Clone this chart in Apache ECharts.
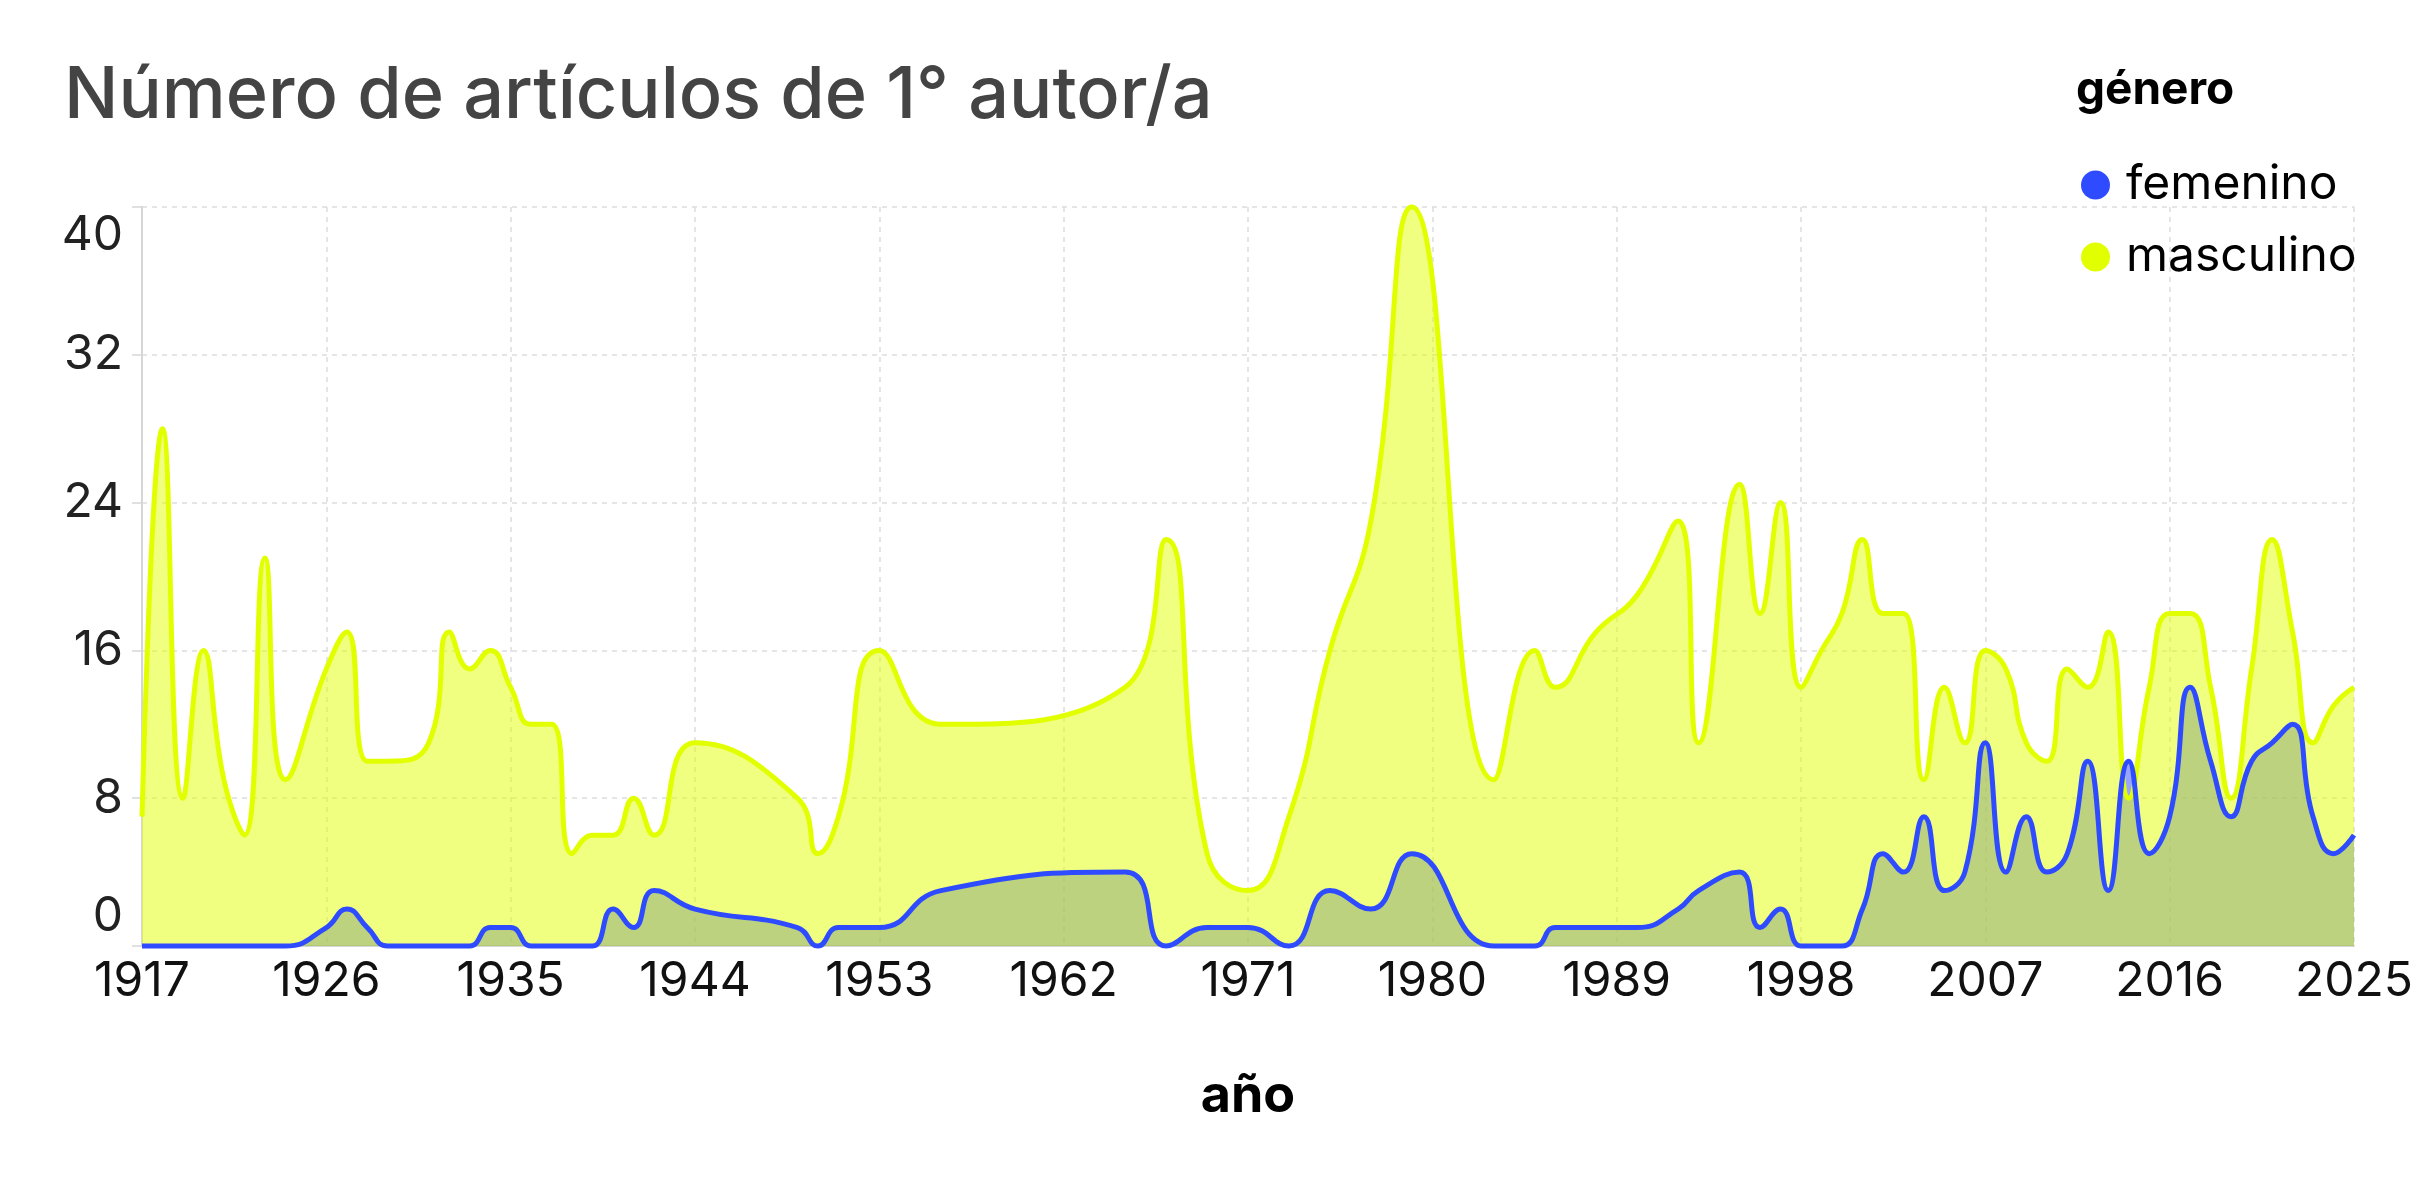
<!DOCTYPE html>
<html>
<head>
<meta charset="utf-8">
<script src="https://cdn.jsdelivr.net/npm/echarts@6/dist/echarts.min.js"></script>
<style>
html,body{margin:0;padding:0;background:#fff;}
#chart{width:2418px;height:1196px;}
</style>
</head>
<body>
<div id="chart"></div>
<script>
// Years with data
const years = [1917,1918,1919,1920,1921,1922,1923,1924,1926,1927,1928,1929,1931,1932,1933,1934,1935,1936,1937,1938,1939,1940,1941,1942,1944,1949,1950,1951,1953,1956,1965,1967,1969,1971,1973,1975,1977,1979,1983,1985,1986,1988,1990,1992,1993,1995,1996,1997,1998,1999,2000,2001,2002,2003,2004,2005,2006,2007,2008,2009,2010,2011,2012,2013,2014,2015,2016,2017,2018,2019,2020,2021,2022,2023,2024,2025];
const femenino = [0,0,0,0,0,0,0,0,1,2,1,0,0,0,0,1,1,0,0,0,0,2,1,3,2,1,0,1,1,3,4,0,1,1,0,3,2,5,0,0,1,1,1,2,3,4,1,2,0,0,0,2,5,4,7,3,4,11,4,7,4,5,10,3,10,5,7,14,10,7,10,11,12,7,5,6];
const masculino = [7,28,8,16,9,6,21,9,15,17,10,10,11,17,15,16,14,12,12,5,6,6,8,6,11,8,5,7,16,12,14,22,5,3,7,16,23,40,9,16,14,17,19,23,11,25,18,24,14,16,18,22,18,18,9,14,11,16,15,11,10,15,14,17,8,14,18,18,14,8,15,22,17,11,13,14];
const seriesNames = ['femenino','masculino'];
const titleText = 'Número de artículos de 1° autor/a';
const legendTitle = 'género';
const xAxisName = 'año';

const FONT = 'Inter, "Noto Sans", sans-serif';
const BLUE = '#2f4bff';
const YELLOW = '#e2ff00';

const femData = years.map((y, i) => [y, femenino[i]]);
const masData = years.map((y, i) => [y, masculino[i]]);

const chart = echarts.init(document.getElementById('chart'), null, {renderer: 'canvas'});

const gridLine = {lineStyle: {type: [5, 5], color: '#dddddd', width: 1.5}};

chart.setOption({
  animation: false,
  backgroundColor: '#ffffff',
  title: [
    {
      text: titleText,
      left: 64, top: 60, padding: 0,
      textStyle: {fontFamily: FONT, fontSize: 72, fontWeight: 500, color: '#444444'}
    },
    {
      text: legendTitle,
      left: 2076, top: 67, padding: 0,
      textStyle: {fontFamily: FONT, fontSize: 46, fontWeight: 'bold', color: '#000000'}
    }
  ],
  legend: {
    data: seriesNames,
    orient: 'vertical',
    left: 2081, top: 161, padding: 0,
    icon: 'circle',
    itemWidth: 51, itemHeight: 29, itemGap: 24,
    textStyle: {fontFamily: FONT, fontSize: 48, color: '#000000', lineHeight: 48}
  },
  grid: {left: 142, right: 64, top: 207, bottom: 250, containLabel: false},
  xAxis: {
    type: 'value',
    min: 1917, max: 2025, interval: 9,
    name: xAxisName,
    nameLocation: 'middle',
    nameGap: 124,
    nameTextStyle: {fontFamily: FONT, fontSize: 52, fontWeight: 'bold', color: '#000000'},
    axisLine: {show: true, lineStyle: {color: '#d6d6d6', width: 2}},
    axisTick: {show: false},
    splitLine: Object.assign({show: true}, gridLine),
    axisLabel: {
      fontFamily: FONT, fontSize: 48, color: '#111111', margin: 12,
      formatter: v => String(v)
    }
  },
  yAxis: {
    type: 'value',
    min: 0, max: 40, interval: 8,
    axisLine: {show: true, lineStyle: {color: '#d6d6d6', width: 2}},
    axisTick: {show: true, length: 10, lineStyle: {color: '#d6d6d6', width: 1.5}},
    splitLine: Object.assign({show: true}, gridLine),
    axisLabel: {
      fontFamily: FONT, fontSize: 48, color: '#222222', margin: 19,
      formatter: v => v === 0 ? '{lo|0}' : (v === 40 ? '{hi|40}' : String(v)),
      rich: {
        lo: {padding: [0, 0, 58, 0]},
        hi: {padding: [58, 0, 0, 0]}
      }
    }
  },
  series: [
    {
      name: 'femenino', type: 'line', data: femData, smooth: 0.5,
      showSymbol: false, clip: false, silent: true, z: 1,
      itemStyle: {color: BLUE},
      lineStyle: {width: 0, color: BLUE},
      areaStyle: {color: BLUE, opacity: 0.5}
    },
    {
      name: 'masculino', type: 'line', data: masData, smooth: 0.5,
      showSymbol: false, clip: false, silent: true, z: 2,
      itemStyle: {color: YELLOW},
      lineStyle: {width: 0, color: YELLOW},
      areaStyle: {color: YELLOW, opacity: 0.5}
    },
    {
      name: 'masculino', type: 'line', data: masData, smooth: 0.5,
      showSymbol: false, clip: false, silent: true, z: 3,
      itemStyle: {color: YELLOW},
      lineStyle: {width: 5, color: YELLOW}
    },
    {
      name: 'femenino', type: 'line', data: femData, smooth: 0.5,
      showSymbol: false, clip: false, silent: true, z: 4,
      itemStyle: {color: BLUE},
      lineStyle: {width: 5, color: BLUE}
    }
  ]
});
</script>
</body>
</html>
